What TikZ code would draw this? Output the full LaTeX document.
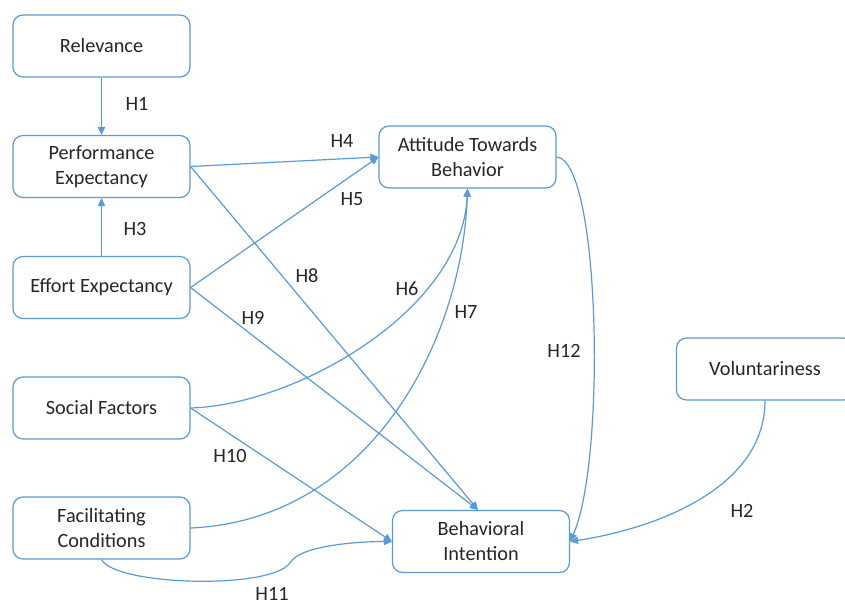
\documentclass[tikz,border=0pt]{standalone}
\usepackage{fontspec}
\setmainfont{Carlito}
\usetikzlibrary{arrows.meta}
\definecolor{linkblue}{HTML}{5B9BD5}
\definecolor{inktext}{HTML}{262626}
\begin{document}
\begin{tikzpicture}[x=0.75pt,y=-0.75pt,
  every node/.style={text=inktext,font=\fontsize{15.2}{18.75}\selectfont},
  factor/.style={draw=linkblue,line width=0.9pt,rounded corners=7.5pt,
    minimum width=132.75pt,minimum height=46.5pt,align=center,inner sep=0pt},
  link/.style={draw=linkblue,line width=0.9pt,-{Triangle[length=6pt,width=5.5pt]}},
  hyp/.style={inner sep=0pt}]
\useasboundingbox (0,0) rectangle (845,603);
\clip (0,0) rectangle (845,603);
\fill[white] (0,0) rectangle (845,603);

% constructs
\node[factor] (rel) at (101.5,46)    {Relevance};
\node[factor] (perf) at (101.5,166.5) {Performance\\Expectancy};
\node[factor] (eff) at (101.5,287.5) {Effort Expectancy};
\node[factor] (soc) at (101.5,408)   {Social Factors};
\node[factor] (fac) at (101.5,528)   {Facilitating\\Conditions};
\node[factor] (att) at (467.5,157)   {Attitude Towards\\Behavior};
\node[factor] (bi)  at (481,541.5)   {Behavioral\\Intention};
\node[factor] (vol) at (765,369)     {Voluntariness};

% hypothesised paths
\draw[link] (rel.south) -- (perf.north);
\draw[link] (eff.north) -- (perf.south);
\draw[link] (perf.east) -- (att.west);
\draw[link] (eff.east) -- (att.west);
\draw[link] (perf.east) -- ([xshift=-2.25pt]bi.north);
\draw[link] (eff.east) -- ([xshift=-2.25pt]bi.north);
\draw[link] (soc.east) -- (bi.west);
\draw[link] (soc.east) .. controls +(105,-3) and +(-5,122) .. (att.south);
\draw[link] (fac.east) .. controls +(180,-8) and +(-5,152) .. (att.south);
\draw[link] (att.east) .. controls +(44,3) and +(36,-80) .. (bi.east);
\draw[link] (vol.south) .. controls +(0,90) and +(80,-12) .. (bi.east);
\coordinate (dip) at (290,563);
\draw[link] (fac.south) .. controls +(14,26) and +(-20,27) .. (dip)
  .. controls +(10,-18) and +(-32,0) .. (bi.west);

% hypothesis labels
\node[hyp] (h1)  at (137,104) {H1};
\node[hyp] (h2)  at (742,511) {H2};
\node[hyp] (h3)  at (135,229) {H3};
\node[hyp] (h4)  at (342,141) {H4};
\node[hyp] (h5)  at (352,199) {H5};
\node[hyp] (h6)  at (407,289) {H6};
\node[hyp] (h7)  at (466,312) {H7};
\node[hyp] (h8)  at (307,276) {H8};
\node[hyp] (h9)  at (253,318) {H9};
\node[hyp] (h10) at (230,456) {H10};
\node[hyp] (h11) at (272,593.5) {H11};
\node[hyp] (h12) at (564,351) {H12};
\end{tikzpicture}
\end{document}
